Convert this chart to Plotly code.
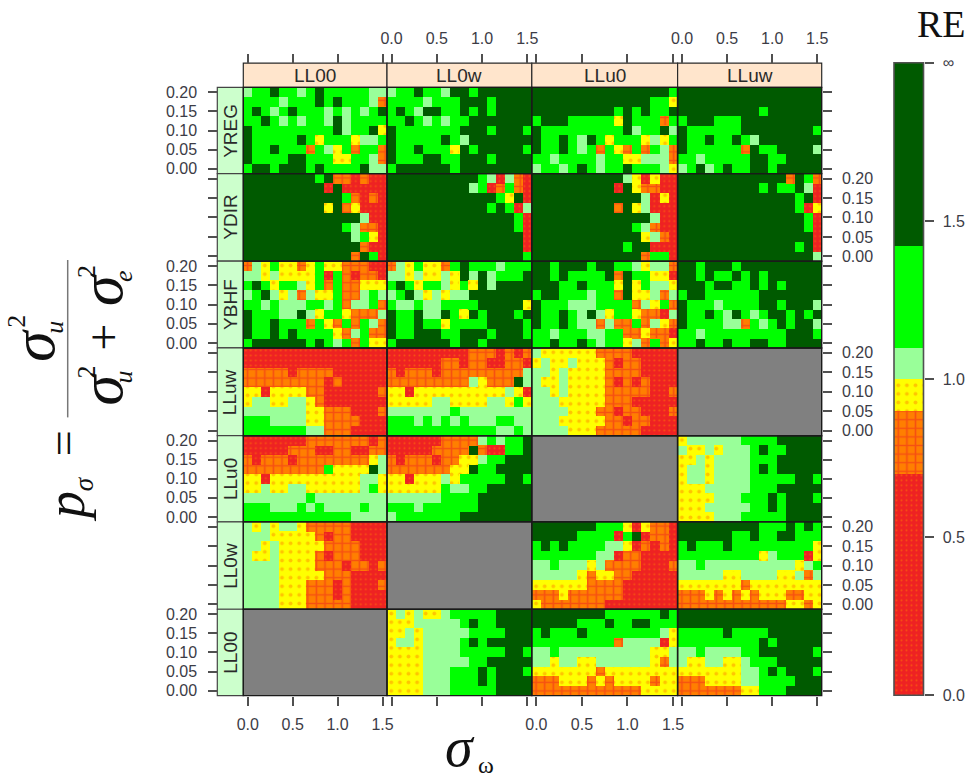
import plotly.graph_objects as go

SIGMA_W = [0.0,0.1,0.2,0.3,0.4,0.5,0.6,0.7,0.8,0.9,1.0,1.1,1.2,1.3,1.4,1.5]
P_SIGMA = [0.2,0.175,0.15,0.125,0.1,0.075,0.05,0.025,0.0]
COLS = ["LL00","LL0w","LLu0","LLuw"]
ROWS = ["YREG","YDIR","YBHF","LLuw","LLu0","LL0w","LL00"]
X_TICKS = [0.0,0.5,1.0,1.5]; X_LABELS = ["0.0","0.5","1.0","1.5"]
Y_TICKS = [0.0,0.05,0.1,0.15,0.2]; Y_LABELS = ["0.00","0.05","0.10","0.15","0.20"]
CB_EDGES = [0.0,0.7,0.9,1.0,1.1,1.42,2.0]
CB_LEVELS = ["R","O","Y","L","G","D"]
CB_TICKS = [0.0,0.5,1.0,1.5,2.0]; CB_LABELS = ["0.0","0.5","1.0","1.5","∞"]

# R <0.7, O 0.7-0.9, Y 0.9-1.0, L 1.0-1.1, G 1.1-1.5, D >1.5, N no comparison; rows top (0.20) to bottom (0.00)
YREG_LL00 = ["LGGDGGLGDGGGGGLL","GGGGLGGGDGDGGGLO","GDGLGDGGGLGLGLGD","GGDGLGLGGLDLGGGG","DGGGGGGGGGDLGGDY","DGGGGGDGYGGGYLLG","DGGDGGGOGLYGOGGO","DGGGGDDGGGYYGGLO","GDDGDDDGDGGGGDLL"]
YREG_LL0w = ["LGGDGGLDDGDDDDDD","GGGGLGGGDDDGDDDD","GDGLDDGGDGDGDDDD","GGDGLGLGGDDDDDDD","DGGGGGGGDDDGDDDG","DGGGGGDGLDDDDDDD","DGGDGGGYDGDDDDDG","DGGGDDGGDDDGDDDD","GDDDDDDGDDDDDDDD"]
YREG_LLu0 = ["DDDDDDDDDDDDDDDG","DDDDDDDDDDDDDGGY","DDDDDDDDDGDGDGGD","GDDDGGGGGYDGGGOG","DGGGGGGGGGDLGGDL","DGGDGLDGYGGGYLYG","DGGDGLGOGYOGOGLO","GGLGGGGLGGYYLLLO","LGGLGDGLGGDGGGLY"]
YREG_LLuw = ["DDDDDDDDDDDDDDDD","DDDDDDDDDDDDDDDD","DDDDDDDDDGDDDDDD","GDDDGGGDDDDDDDDD","DGGGGGGDDDDDDDDG","DGGDGGDGLDDDDDDD","DGGGGGGODGGDDDDL","GGLGGGGGDDGGDDDD","LGDLGDGGDDGDDDDD"]

YDIR_LL00 = ["DDDDDDDDGDOORORR","DDDDDDDDDRDRRRRR","DDDDDDDDDDDGOROR","DDDDDDDDDYDOYRRR","DDDDDDDDDDDDDLRR","DDDDDDDDDDDGLOOR","DDDDDDDDDDDDLGYR","DDDDDDDDDDDDDORR","DDDDDDDDDDDDODGR"]
YDIR_LL0w = ["DDDDDDDDDDGLRLOR","DDDDDDDDDLGROGOR","DDDDDDDDDDDDGYDR","DDDDDDDDDDDGDGRL","DDDDDDDDDDDDDDGR","DDDDDDDDDDDDDDGR","DDDDDDDDDDDDDDDR","DDDDDDDDDDDDDDDR","DDDDDDDDDDDDDDDG"]
YDIR_LLu0 = ["DDDDDDDDDDLYRYRR","DDDDDDDDDRDYOORR","DDDDDDDDDDDDLRYR","DDDDDDDDDODYLRRR","DDDDDDDDDDDDDLRR","DDDDDDDDDDDGLORR","DDDDDDDDDDDDYLOR","DDDDDDDDDDGDDRRR","DDDDDDDDDDDDOGGR"]
YDIR_LLuw = ["DDDDDDDDDDDDODGO","DDDDDDDDDGDGGDLR","DDDDDDDDDDDDDGDR","DDDDDDDDDDDDDGRY","DDDDDDDDDDDDDDGR","DDDDDDDDDDDDDDGR","DDDDDDDDDDDDDDDR","DDDDDDDDDDDDDGDR","DDDDDDDDDDDDDDDL"]

YBHF_LL00 = ["OLYGYYOYGYYOOORR","LLYLYYYYGRGOROOR","GDGYGGLYGOGOOYYY","LGDLYLOLYYGOOLGL","GGLGLLLGGLGOLLGO","DGGGLLDLYGGYOOOL","DGGDGGGOGYOGOGLO","DGGDGDGGGGYOLGOO","GDDDDDDGDGLGOGYY"]
YBHF_LL0w = ["OLYGYYOGDGGGLGGG","LLYLYYLYDLDLGGGD","GDGYGGLYGYDLDDDD","LGDLYLYLLDDDDDDD","GLLGLLGGGGDDDDDY","DGGDLLDGYDGDDDGD","DGGDGGYGGGGDDDDG","DGGDDDGGDDDGDDDG","GDDDDDDGDDGDDDDD"]
YBHF_LLu0 = ["DDGDDDGDDGGLYLLO","DDGDGGGGDODGGYYR","DDDGGDGGGYDYGLLY","GDDGGGLGGODYYLOL","DGGGLLLGGGGOLYGO","DGGDGLDLYGGYOORL","DGGDGLLOLOOGOLYO","GGLGGGLLGGOOYOOR","GGDGGDGLGGYLOGOY"]
YBHF_LLuw = ["DDGDDDGDDDDDDDDD","DDGDGGDGDGDDDDDD","DDDGDDGGDGDGDDDD","GDDGGGGGGDDDDDDD","DGGGLGGGGDDGDDDL","DGGDGLDGLGDDGDGD","DGGGGLLOGLGDGDDL","GGLGGGGGGGGGDDDG","GGDGGDGGDDGGDDDD"]

LLuw_LL00 = ["RRRRRRRRRRRRRRRR","RRRRRRRRRRRRRRRR","OOOOOROOOORRRRRR","OOOOOOOOORORRRRR","YYRYYYYOORRRRRRO","YLLYYLLYORRRRRRR","LLLLLLLYYOOORRRO","GGGLLLLYYOOOORRR","GGGGGGGLLOOORRRR"]
LLuw_LL0w = ["RRRRRRRRROOORORO","RRRRRROOROORROOR","OROOOROOOOOOOOOL","OOOOOOOOOLYOOODL","YYRYYYYYYYYYYLYR","YYYYYLLYYYYLLYGY","LLLLLLLGLLLLLLLL","GGGLGLGLGLLLGGLL","GGGGGGGGGGGGLLGL"]
LLuw_LLu0 = ["LYYYYYYOOOORRRRR","YLYYLYYYOROORRRR","LLYLYYYYOOOORRRR","LYYLYYYYOROROR" + "RR","LLYLYYYYOOOOORRO","LLLYYYYYOOORRRRR","LLLLYYYOOROORRRO","LLLYYYYYOOROORRR","LLLLYYYOOOOORRRR"]
LLuw_LLuw = ["NNNNNNNNNNNNNNNN"]*9

LLu0_LL00 = ["RRRRRRROOOOOOORO","RRRRROOORROORROO","OROOOROOOOOOOOYL","OOOOOOOOOGYYYYDL","YYRYYYYYYYYYYLLY","YYLYYLLYYYYYYLGY","LLLLLLLGLLLLLLLL","GGGLLLGLGLLLLGLL","GGGGGGGGGGGGLLLL"]
LLu0_LL0w = ["RRRRRROOOOLGLGGD","RRRRROOOODORRGGD","OROOOROOYYLGGDDD","OOOOOOOYYDGGDDDD","YYRYYYLYGGGGGDDG","YYYYYYGLLGGDDDDD","LLLLLLGGGGDDDDDD","GGGLGGGGGGDDDDDD","LGGGGGGGDDDDDDDD"]
LLu0_LLu0 = ["NNNNNNNNNNNNNNNN"]*9
LLu0_LLuw = ["YLLLLLLGGGGDDDDD","LYYLYLLLGDGGDDDD","YYLYLLLLGGGDDDDD","YLLYLLLLGDGDDDDD","YLLYLLLLGGGGGDDG","YYYLLLLLGGGDDDDD","YYYYLLLGGGDGDDDG","YYYLLLLLGGDGDDDD","YYYYLLLGGGGGDDDD"]

LL0w_LL00 = ["LYLYLLYOOOOORRRR","LLLYYYYYOROORRRR","LLYLYYYYYOOOORRR","LYYLYYYYOROOORRR","LLLLYYYYOOOROORO","LLLLYYYYYOOORRRR","LLLLYYYOOORORRRO","LLLLYYYOOORORRRR","LLLLYYYOOOOORRRR"]
LL0w_LL0w = ["NNNNNNNNNNNNNNNN"]*9
LL0w_LLu0 = ["DDDDDDDGGGYRYOOR","DDDDDGGGGRGDROOR","GDGDGGGGLLYROROR","GGGGGGGLLROORRRR","LLGLLLYLOOOORRRO","LLLLLYOYYOORRRRR","YYYYYYOOOORRRRRR","OOOYOOOOOORRRRRR","YOOOOOOORRRRRRRR"]
LL0w_LLuw = ["DDDDDDDDDGGGDGDG","DDDDDDGGDGGDDGGG","GDGGGDGGGGGGGGGY","GGGGGGGGGYLGGGRY","LLGLLLLLLLLLLYLG","LLLLLYYLLLLYYLOL","YYYYYYYOYYYYYYYY","OOOYOYOYOYYYOOYY","OOOOOOOOOOOOYYOY"]

LL00_LL00 = ["NNNNNNNNNNNNNNNN"]*9
LL00_LL0w = ["YLYLYYLGGGGGDDDD","YYYLLLLLGDGGDDDD","YYLYLLLLLGGGGDDD","YLLYLLLLGDGDDDDD","YYYYLLLLGGGGGDDG","YYYYLLLLLGGDDDDD","YYYYLLLGGGDGDDDG","YYYYLLLGGGDGDDDD","YYYYLLLGGGGGDDDD"]
LL00_LLu0 = ["DDDDDDDDGGGGGGDG","DDDDDGGGDGGDDGGG","GDGGGDGGGGGGGGLY","GGGGGGGGGOLLLLRY","LLGLLLLLLLLLLYYL","LLYLLYYLLLLLLYOL","YYYYYYYOYYYYYYYY","OOOYYYOYOYYYYOYY","OOOOOOOOOOOOYYYY"]
LL00_LLuw = ["DDDDDDDDDDDDDDDD","DDDDDDDDDDDDDDDD","GGGGGDGGGGDDDDDD","GGGGGGGGGDGDDDDD","LLGLLLLGGDDDDDDG","LYYLLYYLGGGDDDDD","YYYYYYYLLGDGDDDG","OOOYYYYLLGGGGDDD","OOOOOOOYYGGGDDDD"]

GRID = [[YREG_LL00,YREG_LL0w,YREG_LLu0,YREG_LLuw],
        [YDIR_LL00,YDIR_LL0w,YDIR_LLu0,YDIR_LLuw],
        [YBHF_LL00,YBHF_LL0w,YBHF_LLu0,YBHF_LLuw],
        [LLuw_LL00,LLuw_LL0w,LLuw_LLu0,LLuw_LLuw],
        [LLu0_LL00,LLu0_LL0w,LLu0_LLu0,LLu0_LLuw],
        [LL0w_LL00,LL0w_LL0w,LL0w_LLu0,LL0w_LLuw],
        [LL00_LL00,LL00_LL0w,LL00_LLu0,LL00_LLuw]]

# ---- styles
W, H = 975, 783
MX, MY = 7, 7   # the page insets the paper area by this much on each side
LEVEL_ORDER = "ROYLGDN"
COLOR = {"R":"#EE2222","O":"#FF7F00","Y":"#FFFF00","L":"#99FF99","G":"#00FF00","D":"#005A00","N":"#808080"}
PATTERN = {
    "R": dict(shape=".", size=5, solidity=0.13, fgcolor="#FF7F00", bgcolor="#EE2222"),
    "O": dict(shape="+", size=8.6, solidity=0.35, fgcolor="#EE2222", bgcolor="#FF7F00"),
    "Y": dict(shape=".", size=8.6, solidity=0.16, fgcolor="#FF8C00", bgcolor="#FFFF00"),
}
INK = "#3C3C46"
FONT = "Liberation Sans"
SERIF = "Liberation Serif"
X_EDGES = [243.3, 387.0, 531.8, 677.6, 821.7]
Y_EDGES = [86.7, 173.3, 261.2, 348.3, 436.4, 522.8, 610.6, 697.3]
STRIP_TOP = 62.3
STRIP_LEFT = 217.3
TICK_LEN = 9
TICK_W = 1.6
TICK_SIZE = 16

def px(v): return (v - MX) / (W - 2*MX)
def py(v): return 1 - (v - MY) / (H - 2*MY)

colorscale = []
for i, k in enumerate(LEVEL_ORDER):
    colorscale += [[i/7, COLOR[k]], [(i+1)/7, COLOR[k]]]

fig = go.Figure()
layout = {}
shapes = []
annots = []
n = 0
xstep, ystep = 0.1, 0.025

def axname(k, a): return f"{a}axis{'' if k == 1 else k}"
def axref(k, a): return f"{a}{'' if k == 1 else k}"

axis_font = dict(family=FONT, size=TICK_SIZE, color=INK)
common_tick = dict(ticks="outside", ticklen=TICK_LEN, tickwidth=TICK_W, tickcolor="#505050", tickfont=axis_font)

for r, row in enumerate(ROWS):
    for c, col in enumerate(COLS):
        n += 1
        panel = GRID[r][c]
        assert len(panel) == 9 and all(len(s) == 16 for s in panel), (row, col, panel)
        xa, ya = axref(n, "x"), axref(n, "y")
        z = [[LEVEL_ORDER.index(ch) for ch in s] for s in panel]
        fig.add_trace(go.Heatmap(x=SIGMA_W, y=P_SIGMA, z=z, zmin=-0.5, zmax=6.5, colorscale=colorscale,
                                 showscale=False, hoverinfo="skip", xaxis=xa, yaxis=ya))
        for lev in "ROY":
            xs, bs = [], []
            for iy, s in enumerate(panel):
                for ix, ch in enumerate(s):
                    if ch == lev:
                        xs.append(SIGMA_W[ix]); bs.append(P_SIGMA[iy] - ystep/2)
            if xs:
                fig.add_trace(go.Bar(x=xs, y=[ystep]*len(xs), base=bs, width=xstep,
                                     marker=dict(color=COLOR[lev], line=dict(width=0), pattern=PATTERN[lev]),
                                     hoverinfo="skip", showlegend=False, xaxis=xa, yaxis=ya))
        xdict = dict(domain=[px(X_EDGES[c]), px(X_EDGES[c+1])], range=[-0.05, 1.55], anchor=ya,
                     showgrid=False, zeroline=False, showline=False, fixedrange=True)
        ydict = dict(domain=[py(Y_EDGES[r+1]), py(Y_EDGES[r])], range=[-0.0125, 0.2125], anchor=xa,
                     showgrid=False, zeroline=False, showline=False, fixedrange=True)
        if r == len(ROWS) - 1:
            xdict.update(common_tick, tickvals=X_TICKS, ticktext=X_LABELS, showticklabels=c % 2 == 0, ticklabelstandoff=5)
        else:
            xdict.update(ticks="", showticklabels=False)
        if c == 0:
            ydict.update(common_tick, tickvals=Y_TICKS, ticktext=Y_LABELS, showticklabels=r % 2 == 0,
                         anchor="free", position=px(STRIP_LEFT), ticklabelstandoff=8)
        else:
            ydict.update(ticks="", showticklabels=False)
        layout[axname(n, "x")] = xdict
        layout[axname(n, "y")] = ydict
        shapes.append(dict(type="rect", xref="paper", yref="paper", x0=px(X_EDGES[c]), x1=px(X_EDGES[c+1]),
                           y0=py(Y_EDGES[r+1]), y1=py(Y_EDGES[r]), line=dict(color="#1A1A1A", width=1.4), layer="above"))

# top tick axes
for c in range(4):
    n += 1
    base_x = axref(c + 1, "x")
    layout[axname(n, "x")] = dict(overlaying=base_x, side="top", anchor="free", position=py(STRIP_TOP),
                                  range=[-0.05, 1.55], showgrid=False, zeroline=False, showline=False, fixedrange=True,
                                  tickvals=X_TICKS, ticktext=X_LABELS, showticklabels=c % 2 == 1, ticklabelstandoff=4, **common_tick)
    layout[axname(n, "y")] = dict(overlaying=axref(c + 1, "y"), anchor=axref(n, "x"), range=[-0.0125, 0.2125], visible=False, fixedrange=True)
    fig.add_trace(go.Scatter(x=[None], y=[None], mode="lines", xaxis=axref(n, "x"), yaxis=axref(n, "y"), hoverinfo="skip", showlegend=False))

# right tick axes
for r in range(7):
    n += 1
    base_k = r * 4 + 4
    layout[axname(n, "y")] = dict(overlaying=axref(base_k, "y"), side="right", anchor=axref(base_k, "x"),
                                  range=[-0.0125, 0.2125], showgrid=False, zeroline=False, showline=False, fixedrange=True,
                                  tickvals=Y_TICKS, ticktext=Y_LABELS, showticklabels=r % 2 == 1, ticklabelstandoff=7, **common_tick)
    fig.add_trace(go.Scatter(x=[None], y=[None], mode="lines", xaxis=axref(base_k, "x"), yaxis=axref(n, "y"), hoverinfo="skip", showlegend=False))

# colour key
n += 1
cbx, cby = axref(n, "x"), axref(n, "y")
layout[axname(n, "x")] = dict(domain=[px(894), px(923.5)], range=[0, 1], visible=False, fixedrange=True, anchor=cby)
layout[axname(n, "y")] = dict(domain=[py(697), py(62)], range=[0, 2], side="right", anchor=cbx, showgrid=False, zeroline=False,
                              fixedrange=True, tickvals=CB_TICKS, ticktext=CB_LABELS, ticklabelstandoff=6, showline=False, **common_tick)
for i, lev in enumerate(CB_LEVELS):
    m = dict(color=COLOR[lev], line=dict(width=0))
    if lev in PATTERN:
        m["pattern"] = PATTERN[lev]
    fig.add_trace(go.Bar(x=[0.5], y=[CB_EDGES[i+1] - CB_EDGES[i]], base=[CB_EDGES[i]], width=1, marker=m,
                         hoverinfo="skip", showlegend=False, xaxis=cbx, yaxis=cby))
shapes.append(dict(type="rect", xref="paper", yref="paper", x0=px(894), x1=px(923.5), y0=py(697), y1=py(62),
                   line=dict(color="#505050", width=1.6), layer="above"))

# strips
for c, col in enumerate(COLS):
    shapes.append(dict(type="rect", xref="paper", yref="paper", x0=px(X_EDGES[c]), x1=px(X_EDGES[c+1]),
                       y0=py(Y_EDGES[0]), y1=py(STRIP_TOP), fillcolor="#FFE5CC", line=dict(color="#2A2A2A", width=1.2), layer="below"))
    annots.append(dict(text=col, xref="paper", yref="paper", x=px((X_EDGES[c]+X_EDGES[c+1])/2), y=py((Y_EDGES[0]+STRIP_TOP)/2),
                       showarrow=False, xanchor="center", yanchor="middle", font=dict(family=FONT, size=19, color="#2A2A2A")))
for r, row in enumerate(ROWS):
    shapes.append(dict(type="rect", xref="paper", yref="paper", x0=px(STRIP_LEFT), x1=px(X_EDGES[0]),
                       y0=py(Y_EDGES[r+1]), y1=py(Y_EDGES[r]), fillcolor="#CCFFCC", line=dict(color="#444444", width=1.2), layer="below"))
    annots.append(dict(text=row, xref="paper", yref="paper", x=px((STRIP_LEFT+X_EDGES[0])/2), y=py((Y_EDGES[r]+Y_EDGES[r+1])/2),
                       showarrow=False, textangle=-90, xanchor="center", yanchor="middle", font=dict(family=FONT, size=19, color="#2A2A2A")))

# formula pieces
def label(t, x, y, size, rot=-90, family=SERIF, color="#111111"):
    annots.append(dict(text=t, xref="paper", yref="paper", x=px(x), y=py(y), showarrow=False, textangle=rot,
                       xanchor="center", yanchor="middle", font=dict(family=family, size=size, color=color)))

label("<i>p</i>", 66, 508, 54)
label("<i>σ</i>", 84, 485, 27)
label("=", 63, 444, 46)
label("<i>σ</i>", 33, 346, 62)
label("<i>u</i>", 55, 328, 26)
label("2", 17, 322, 26)
label("<i>σ</i>", 101, 390, 62)
label("<i>u</i>", 124, 378, 26)
label("2", 87, 373, 26)
label("+", 104, 338, 48)
label("<i>σ</i>", 101, 290, 62)
label("<i>e</i>", 124, 276, 26)
label("2", 87, 272, 26)
shapes.append(dict(type="line", xref="paper", yref="paper", x0=px(67.7), x1=px(67.7), y0=py(260), y1=py(418), line=dict(color="#777777", width=1.5)))
label("<i>σ</i>", 460, 749, 56, rot=0)
label("ω", 486, 767, 24, rot=0)
label("RE", 941, 23, 38, rot=0)

fig.update_layout(width=W, height=H, margin=dict(l=0, r=0, t=0, b=0), autosize=False,
                  paper_bgcolor="white", plot_bgcolor="white", barmode="overlay", bargap=0,
                  showlegend=False, shapes=shapes, annotations=annots, **layout)
fig.write_html("out.html", config=dict(displayModeBar=False),
               post_script="document.body.style.margin='0';document.body.style.overflow='hidden';")
